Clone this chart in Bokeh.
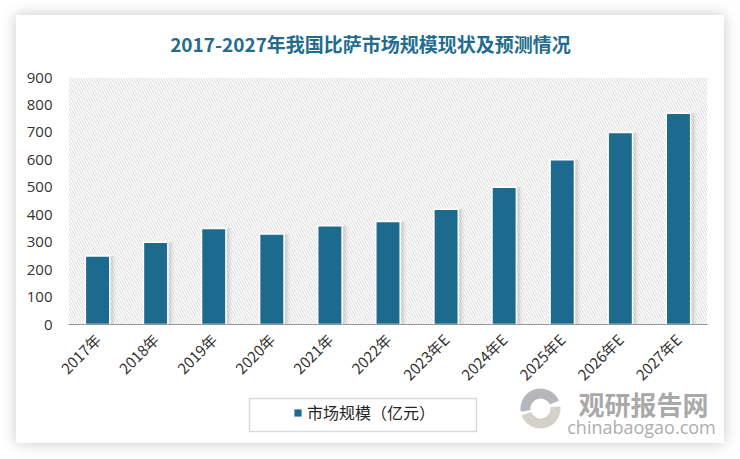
from math import pi
from bokeh.plotting import figure
from bokeh.layouts import column
from bokeh.models import (ColumnDataSource, FactorRange, Range1d, BoxAnnotation, Legend,
                          LegendItem, SingleIntervalTicker)
from bokeh.core.properties import value
from bokeh.transform import dodge
from bokeh.embed import file_html
from bokeh.resources import INLINE

years = ["2017年", "2018年", "2019年", "2020年", "2021年", "2022年",
         "2023年E", "2024年E", "2025年E", "2026年E", "2027年E"]
market_size = [250, 300, 350, 330, 360, 375, 420, 500, 600, 700, 770]
series_name = "市场规模（亿元）"
title_text = "2017-2027年我国比萨市场规模现状及预测情况"
watermark_cn = "观研报告网"
watermark_en = "chinabaogao.com"

BAR = "#1c6b8e"
src = ColumnDataSource(dict(year=years, val=market_size))


def strip(height, y_top, y_bottom):
    f = figure(width=708, height=height, x_range=Range1d(16, 724),
               y_range=Range1d(y_bottom, y_top), output_backend="svg",
               toolbar_location=None, x_axis_type=None, y_axis_type=None, min_border=0)
    f.frame_align = False
    f.outline_line_color = None
    f.grid.visible = False
    f.background_fill_alpha = 0
    f.border_fill_alpha = 0
    return f


# top strip: title (data coords = page pixels)
t = strip(47, 15, 62)
t.text(x=[370], y=[43], text=[title_text], text_font=value("Noto Sans CJK SC"),
       text_font_style="bold", text_font_size="19px", text_color="#236c8e",
       text_align="center", text_baseline="middle")

p = figure(width=708, height=332, x_range=FactorRange(*years, range_padding=0),
           y_range=Range1d(0, 900), output_backend="svg", toolbar_location=None,
           min_border_left=52, min_border_right=17, min_border_top=15, min_border_bottom=69)
p.title = None
p.outline_line_color = None
p.background_fill_color = "white"
p.border_fill_color = "white"
p.grid.visible = False

# hatched plot area
p.add_layout(BoxAnnotation(fill_alpha=0, line_alpha=0, hatch_pattern="\\",
                           hatch_color="#dadada", hatch_scale=5, hatch_weight=1.0,
                           level="underlay"))

# soft shadows
for off, w, a in [(0.06, 0.5, 0.08), (0.04, 0.46, 0.14)]:
    p.vbar(x=dodge("year", off, range=p.x_range), top="val", width=w, source=src,
           fill_color="#707070", fill_alpha=a, line_color=None)
bars = p.vbar(x="year", top="val", width=0.42, source=src, fill_color=BAR,
              line_color="white", line_width=1.5)

p.yaxis.ticker = SingleIntervalTicker(interval=100)
p.yaxis.axis_line_color = None
p.yaxis.major_tick_line_color = None
p.yaxis.major_tick_out = 0
p.yaxis.major_tick_in = 0
p.yaxis.minor_tick_line_color = None
p.yaxis.major_label_text_font_size = "15px"
p.yaxis.major_label_text_color = "#333333"
p.yaxis.major_label_text_font = "Open Sans"
p.yaxis.major_label_standoff = 12

p.xaxis.axis_line_color = "#999999"
p.xaxis.major_tick_line_color = None
p.xaxis.major_tick_out = 0
p.xaxis.major_tick_in = 0
p.xaxis.major_label_orientation = pi / 4
p.xaxis.major_label_text_font_size = "15px"
p.xaxis.major_label_text_color = "#333333"
p.xaxis.major_label_text_font = "Noto Sans CJK SC"
p.xaxis.major_label_standoff = 12

# bottom strip: legend + watermark (data coords = page pixels)
q = strip(59, 384, 443)
q.margin = (-10, 0, 0, 0)

# legend frame
q.quad(left=[249], right=[476], top=[398], bottom=[431], fill_alpha=0,
       line_color="#d9d9d9", line_width=1.5)
dummy = q.rect(x=[0], y=[0], width=1, height=1, fill_color=BAR, line_color=None)
legend = Legend(items=[LegendItem(label=series_name, renderers=[dummy])],
                location=(277, 19), orientation="horizontal",
                border_line_color=None, background_fill_alpha=0,
                label_text_font_size="16px", label_text_font="Noto Sans CJK SC",
                label_text_color="#262626", glyph_width=9, glyph_height=9,
                padding=0, margin=0, label_standoff=5, label_height=18)
legend.item_background_fill_alpha = 0
q.add_layout(legend, "center")

# watermark logo (decorative swirl)
q.annular_wedge(x=[540], y=[408], inner_radius=10, outer_radius=20, start_angle=0.4,
                end_angle=3.3, fill_color="#a8acaf", line_color=None, alpha=0.85,
                direction="anticlock")
q.annular_wedge(x=[540], y=[408], inner_radius=10, outer_radius=20, start_angle=3.5,
                end_angle=6.4, fill_color="#cdc9c0", line_color=None, alpha=0.85,
                direction="anticlock")
q.text(x=[643], y=[403], text=[watermark_cn], text_font=value("Noto Sans CJK SC"),
       text_font_style="bold", text_font_size="26px", text_color="#9a9a9a",
       text_align="center", text_baseline="middle", text_alpha=0.85)
q.text(x=[641], y=[426], text=[watermark_en], text_font=value("Open Sans"),
       text_font_size="18px", text_color="#a2a2a2", text_align="center",
       text_baseline="middle", text_alpha=0.9)

layout = column(t, p, q, spacing=0, margin=(15, 0, 0, 16),
                styles={"box-shadow": "0 0 14px rgba(0,0,0,0.22)",
                        "background-color": "white"})

open("out.html", "w").write(file_html(layout, INLINE))
